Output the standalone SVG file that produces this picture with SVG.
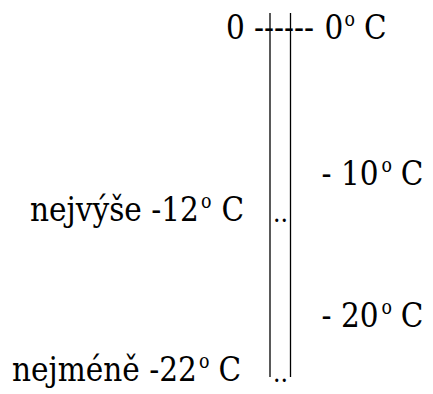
<svg xmlns="http://www.w3.org/2000/svg" width="433" height="394" viewBox="0 0 433 394">
<style>
text{font-family:'DejaVu Serif','Liberation Serif',serif;fill:#000}
.t{font-size:34px}
.s{font-size:20px}
.d{font-size:26px}
line{stroke:#000;stroke-width:1.3}
</style>
<rect width="433" height="394" fill="#fff"/>
<g id="connectors">
<line x1="270" y1="13" x2="270" y2="377"/>
<line x1="290.5" y1="13" x2="290.5" y2="377"/>
</g>
<g id="top">
<text class="t" transform="translate(226,0) scale(0.87,1)"><tspan x="0" y="39">0</tspan><tspan x="32.2" y="39">------</tspan><tspan x="113.2" y="39">0</tspan><tspan class="s" x="136.2" y="26">o</tspan><tspan x="158.6" y="39">C</tspan></text>
</g>
<g id="minus10">
<text class="t" transform="translate(321.5,0) scale(0.87,1)"><tspan x="0" y="185">- 10</tspan><tspan class="s" x="69" y="172">o</tspan><tspan x="91.1" y="185">C</tspan></text>
</g>
<g id="max">
<text class="t" transform="translate(30,0) scale(0.87,1)"><tspan x="0" y="221">nejvýše -12</tspan><tspan class="s" x="196.6" y="208">o</tspan><tspan x="220" y="221">C</tspan></text>
<text class="d" x="273" y="222" textLength="15" lengthAdjust="spacingAndGlyphs">..</text>
</g>
<g id="minus20">
<text class="t" transform="translate(321.5,0) scale(0.87,1)"><tspan x="0" y="327">- 20</tspan><tspan class="s" x="69" y="314">o</tspan><tspan x="91.1" y="327">C</tspan></text>
</g>
<g id="min">
<text class="t" transform="translate(12,0) scale(0.87,1)"><tspan x="0" y="381">nejméně -22</tspan><tspan class="s" x="214.9" y="368">o</tspan><tspan x="237.4" y="381">C</tspan></text>
<text class="d" x="273" y="382" textLength="15" lengthAdjust="spacingAndGlyphs">..</text>
</g>
</svg>
